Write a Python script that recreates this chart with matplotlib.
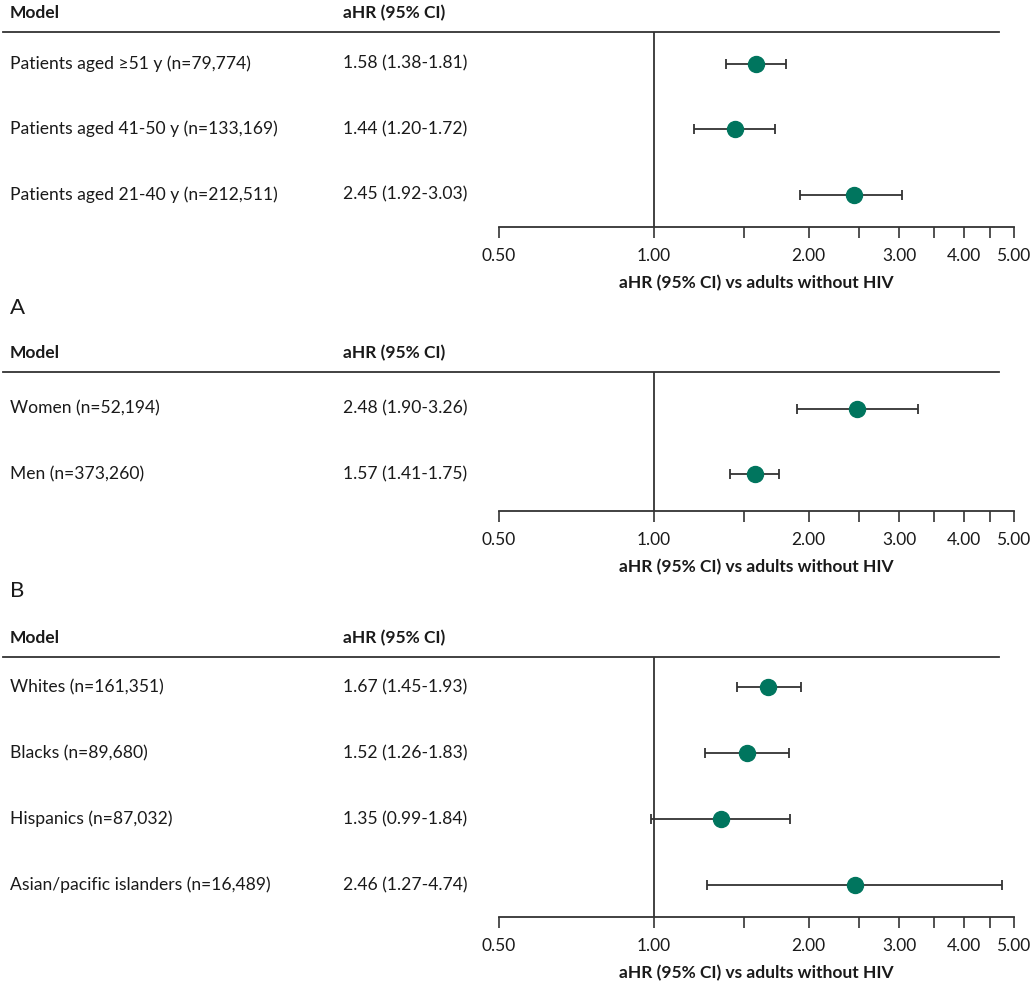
import matplotlib
matplotlib.use("Agg")
from matplotlib import pyplot as plt
from matplotlib.lines import Line2D
from matplotlib.transforms import blended_transform_factory
import numpy as np

plt.rcParams['font.family'] = ['Lato', 'DejaVu Sans']

# panel data
age_labels = ['Patients aged \u226551 y (n=79,774)', 'Patients aged 41-50 y (n=133,169)',
			  'Patients aged 21-40 y (n=212,511)']
age_hr = [1.58, 1.44, 2.45]
age_lo = [1.38, 1.20, 1.92]
age_hi = [1.81, 1.72, 3.03]

sex_labels = ['Women (n=52,194)', 'Men (n=373,260)']
sex_hr = [2.48, 1.57]
sex_lo = [1.90, 1.41]
sex_hi = [3.26, 1.75]

race_labels = ['Whites (n=161,351)', 'Blacks (n=89,680)', 'Hispanics (n=87,032)',
			   'Asian/pacific islanders (n=16,489)']
race_hr = [1.67, 1.52, 1.35, 2.46]
race_lo = [1.45, 1.26, 0.99, 1.27]
race_hi = [1.93, 1.83, 1.84, 4.74]

tick_vals = [0.5, 1, 1.5, 2, 2.5, 3, 3.5, 4, 4.5, 5]
tick_text = ['0.50', '1.00', '', '2.00', '', '3.00', '', '4.00', '', '5.00']

W, H = 1033, 984
GREEN = '#00755e'
LINE = '#333333'
TXT = '#1a1a1a'

fig = plt.figure(figsize=(W / 100, H / 100), dpi=100)

def panel(top_px, bottom_px, labels, hr, lo, hi, t, b):
	ax = fig.add_axes([498.7 / W, 1 - bottom_px / H, (1013.5 - 498.7) / W, (bottom_px - top_px) / H])
	n = len(labels)
	y = np.arange(n)
	hr = np.array(hr)
	err = [hr - np.array(lo), np.array(hi) - hr]
	ax.errorbar(hr, y, xerr=err, fmt='o', color=GREEN, ms=11.5, ecolor=LINE,
				elinewidth=1.3, capsize=3.5, capthick=1.3, zorder=3)
	ax.axvline(1, color=LINE, lw=1.3)
	ax.set_xscale('log')
	ax.set_xlim(0.5, 5)
	ax.set_ylim(n - 1 + b, -t)
	ax.set_xticks(tick_vals)
	ax.set_xticklabels(tick_text)
	ax.xaxis.set_minor_locator(matplotlib.ticker.NullLocator())
	ax.tick_params(axis='x', length=8, width=1.2, color=LINE, pad=7, labelsize=12.5, labelcolor=TXT)
	ax.set_yticks([])
	for s in ['top', 'right', 'left']:
		ax.spines[s].set_visible(False)
	ax.spines['bottom'].set_color(LINE)
	ax.spines['bottom'].set_linewidth(1.3)

	tr = blended_transform_factory(fig.transFigure, ax.transData)
	for i, lab in enumerate(labels):
		ax.text(10 / W, i, lab, transform=tr, va='center', ha='left', fontsize=12.6, color=TXT)
		ax.text(343 / W, i, '%.2f (%.2f-%.2f)' % (hr[i], lo[i], hi[i]), transform=tr,
				va='center', ha='left', fontsize=12.6, color=TXT)

	# header row and rule
	fig.add_artist(Line2D([3 / W, 999 / W], [1 - top_px / H] * 2, color=LINE, lw=1.3,
						  transform=fig.transFigure))
	fig.text(10 / W, 1 - (top_px - 19) / H, 'Model', va='center', ha='left', fontsize=12.5,
			 fontweight='bold', color=TXT)
	fig.text(343 / W, 1 - (top_px - 19) / H, 'aHR (95% CI)', va='center', ha='left', fontsize=12.5,
			 fontweight='bold', color=TXT)
	fig.text(756 / W, 1 - (bottom_px + 56) / H, 'aHR (95% CI) vs adults without HIV', va='center',
			 ha='center', fontsize=12.5, fontweight='bold', color=TXT)
	return ax

panel(32, 227, age_labels, age_hr, age_lo, age_hi, 0.48, 0.49)
panel(371.7, 510.7, sex_labels, sex_hr, sex_lo, sex_hi, 0.56, 0.55)
panel(656.7, 916.7, race_labels, race_hr, race_lo, race_hi, 0.46, 0.48)

fig.text(10 / W, 1 - 308 / H, 'A', va='center', ha='left', fontsize=16, color=TXT)
fig.text(10 / W, 1 - 590.7 / H, 'B', va='center', ha='left', fontsize=16, color=TXT)

fig.savefig('out.png', dpi=100, facecolor='white')
